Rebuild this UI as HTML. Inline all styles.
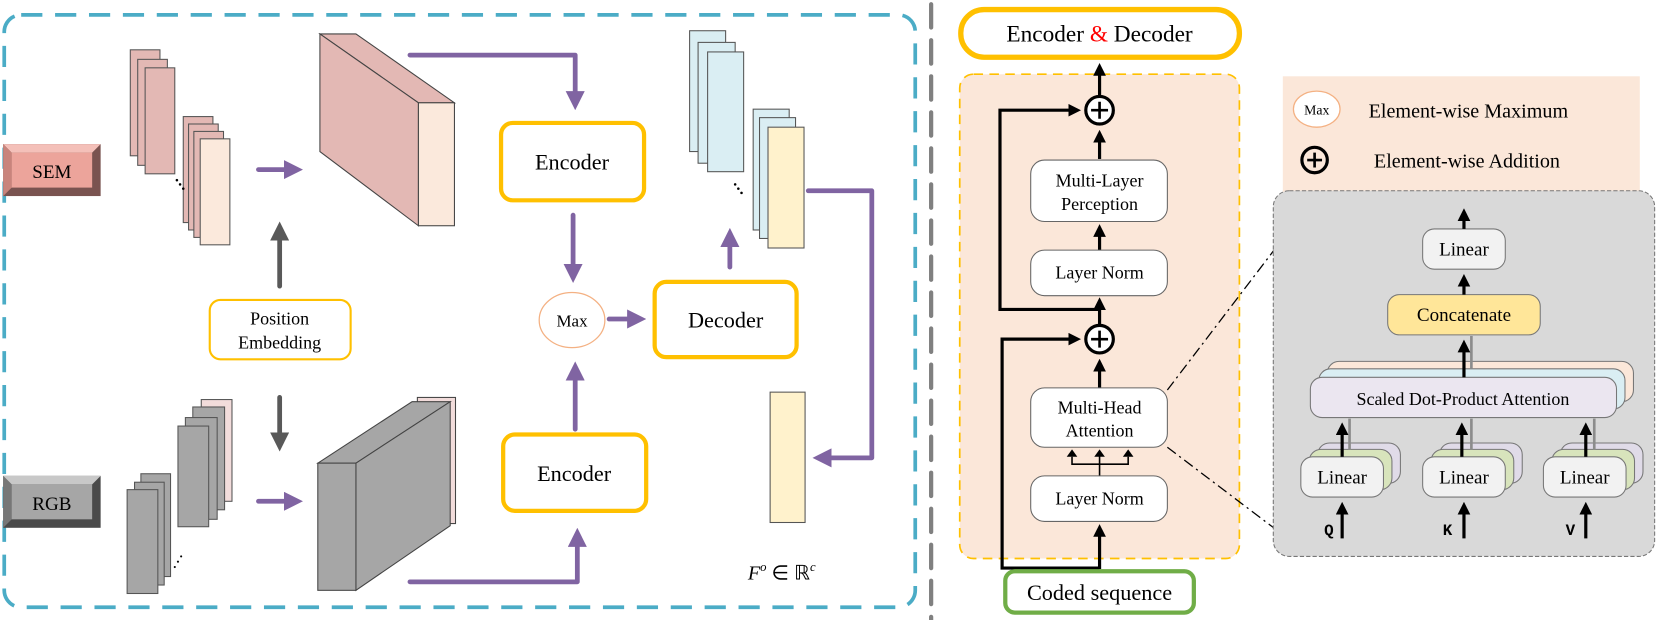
<!DOCTYPE html>
<html><head><meta charset="utf-8">
<style>
html,body{margin:0;padding:0;background:#fff;}
svg{display:block;font-family:"Liberation Serif",serif;}
svg text{font-family:"Liberation Serif",serif;}
svg text.mono{font-family:"Liberation Mono",monospace;font-weight:bold;}
</style></head>
<body>
<svg width="1661" height="620" viewBox="0 0 1568 585" preserveAspectRatio="none" xmlns="http://www.w3.org/2000/svg" font-family="Liberation Serif, serif">
<defs>
<marker id="ap" markerWidth="4" markerHeight="4" refX="2" refY="2" orient="auto" markerUnits="strokeWidth"><path d="M0,0 L4,2 L0,4 z" fill="#8064a2"/></marker>
<marker id="ag" markerWidth="4" markerHeight="4" refX="2" refY="2" orient="auto" markerUnits="strokeWidth"><path d="M0,0 L4,2 L0,4 z" fill="#595959"/></marker>
<marker id="ab" markerWidth="4" markerHeight="4" refX="2.5" refY="2" orient="auto" markerUnits="strokeWidth"><path d="M0,0 L4,2 L0,4 z" fill="#000"/></marker>
</defs>

<rect x="4" y="14" width="860" height="559" rx="16" fill="none" stroke="#4bacc6" stroke-width="3.5" stroke-dasharray="20 12"/>
<line x1="879" y1="4" x2="879" y2="585" stroke="#808080" stroke-width="4" stroke-dasharray="22 12" stroke-linecap="round"/>

<rect x="3" y="136" width="92" height="49" fill="#7a5350"/>
<polygon points="3,136 95,136 87,144 11,144" fill="#f4c0b9"/>
<polygon points="3,136 11,144 11,177 3,185" fill="#c9847c"/>
<rect x="11" y="144" width="76" height="33" fill="#eca49b"/>
<text x="49" y="168" font-size="18" text-anchor="middle">SEM</text>
<rect x="3" y="449" width="92" height="49" fill="#4a4a4a"/>
<polygon points="3,449 95,449 87,457 11,457" fill="#c8c8c8"/>
<polygon points="3,449 11,457 11,490 3,498" fill="#777"/>
<rect x="11" y="457" width="76" height="33" fill="#a6a6a6"/>
<text x="49" y="481" font-size="18" text-anchor="middle">RGB</text>

<g stroke="#555" stroke-width="1">
<rect x="123" y="47" width="28" height="100" fill="#e3b8b4"/>
<rect x="130" y="56" width="28" height="100" fill="#e3b8b4"/>
<rect x="137" y="64" width="28" height="100" fill="#e3b8b4"/>
<rect x="173" y="110" width="28" height="100" fill="#e3b8b4"/>
<rect x="178" y="117" width="28" height="100" fill="#e3b8b4"/>
<rect x="183" y="124" width="28" height="100" fill="#e3b8b4"/>
<rect x="189" y="131" width="28" height="100" fill="#fbe9dc"/>
</g>
<g fill="#000"><circle cx="167" cy="170" r="1.2"/><circle cx="170" cy="174" r="1.2"/><circle cx="173" cy="178" r="1.2"/></g>
<line x1="244" y1="160" x2="277" y2="160" stroke="#8064a2" stroke-width="4.5" stroke-linecap="round" marker-end="url(#ap)"/>

<polygon points="302,32 336,32 429,97 395,97" fill="#e3b8b4" stroke="#444" stroke-width="1"/>
<polygon points="302,32 395,97 395,213 302,143" fill="#e3b8b4" stroke="#444" stroke-width="1"/>
<rect x="395" y="97" width="34" height="116" fill="#fbe9dc" stroke="#444" stroke-width="1"/>

<rect x="198" y="283" width="133" height="56" rx="10" fill="#fff" stroke="#ffc000" stroke-width="2"/>
<text x="264" y="306" font-size="17" text-anchor="middle">Position</text>
<text x="264" y="329" font-size="17" text-anchor="middle">Embedding</text>
<line x1="264" y1="270" x2="264" y2="218" stroke="#595959" stroke-width="4.5" stroke-linecap="round" marker-end="url(#ag)"/>
<line x1="264" y1="375" x2="264" y2="417" stroke="#595959" stroke-width="4.5" stroke-linecap="round" marker-end="url(#ag)"/>

<g stroke="#555" stroke-width="1">
<rect x="133" y="447" width="28" height="97" fill="#a6a6a6"/>
<rect x="127" y="455" width="28" height="97" fill="#a6a6a6"/>
<rect x="120" y="462" width="29" height="98" fill="#a6a6a6"/>
<rect x="190" y="377" width="29" height="96" fill="#f2dcdb"/>
<rect x="182" y="384" width="30" height="97" fill="#a6a6a6"/>
<rect x="175" y="394" width="30" height="96" fill="#a6a6a6"/>
<rect x="168" y="402" width="29" height="95" fill="#a6a6a6"/>
</g>
<g fill="#000"><circle cx="171" cy="525" r="1"/><circle cx="168" cy="530" r="1"/><circle cx="165" cy="535" r="1"/></g>
<line x1="244" y1="473" x2="277" y2="473" stroke="#8064a2" stroke-width="4.5" stroke-linecap="round" marker-end="url(#ap)"/>

<rect x="394" y="375" width="36" height="119" fill="#f2dcdb" stroke="#444" stroke-width="1"/>
<polygon points="300,437 389,379 425,379 336,437" fill="#a6a6a6" stroke="#444" stroke-width="1"/>
<polygon points="336,437 425,379 425,496 336,557" fill="#a6a6a6" stroke="#444" stroke-width="1"/>
<rect x="300" y="437" width="36" height="120" fill="#a6a6a6" stroke="#444" stroke-width="1"/>

<g fill="none" stroke="#8064a2" stroke-width="4.5" stroke-linecap="round" stroke-linejoin="round">
<polyline points="387,52 543,52 543,95" marker-end="url(#ap)"/>
<line x1="541" y1="203" x2="541" y2="258" marker-end="url(#ap)"/>
<line x1="575" y1="301" x2="601" y2="301" marker-end="url(#ap)"/>
<line x1="543" y1="405" x2="543" y2="350" marker-end="url(#ap)"/>
<polyline points="387,549 545,549 545,507" marker-end="url(#ap)"/>
<line x1="689" y1="252" x2="689" y2="224" marker-end="url(#ap)"/>
<polyline points="763,180 823,180 823,432 776,432" marker-end="url(#ap)"/>
</g>

<rect x="473" y="116" width="135" height="73" rx="11" fill="#fff" stroke="#ffc000" stroke-width="4"/>
<text x="540" y="160" font-size="21" text-anchor="middle">Encoder</text>
<rect x="475" y="410" width="135" height="72" rx="11" fill="#fff" stroke="#ffc000" stroke-width="4"/>
<text x="542" y="454" font-size="21" text-anchor="middle">Encoder</text>
<rect x="618" y="266" width="134" height="71" rx="11" fill="#fff" stroke="#ffc000" stroke-width="4"/>
<text x="685" y="309" font-size="21" text-anchor="middle">Decoder</text>
<ellipse cx="540" cy="302" rx="31" ry="26" fill="#fff" stroke="#f4b183" stroke-width="1.2"/>
<text x="540" y="308" font-size="16" text-anchor="middle">Max</text>

<g stroke="#555" stroke-width="1">
<rect x="651" y="29" width="34" height="114" fill="#daeef3"/>
<rect x="659" y="40" width="35" height="114" fill="#daeef3"/>
<rect x="668" y="49" width="34" height="113" fill="#daeef3"/>
<rect x="711" y="103" width="34" height="114" fill="#daeef3"/>
<rect x="717" y="111" width="34" height="114" fill="#daeef3"/>
<rect x="725" y="120" width="34" height="114" fill="#fff2cc"/>
<rect x="727" y="370" width="33" height="123" fill="#fff2cc"/>
</g>
<g fill="#000"><circle cx="694" cy="174" r="1.2"/><circle cx="697" cy="178" r="1.2"/><circle cx="700" cy="182" r="1.2"/></g>
<text x="706" y="547" font-size="19" font-style="italic">F<tspan font-size="12" dy="-8">o</tspan><tspan dy="8" font-style="normal"> ∈ ℝ</tspan><tspan font-size="12" dy="-8">c</tspan></text>

<rect x="907" y="9" width="263" height="45" rx="22" fill="#fff" stroke="#ffc000" stroke-width="5"/>
<text x="1038" y="39" font-size="22" text-anchor="middle">Encoder <tspan fill="#ff0000">&amp;</tspan> Decoder</text>
<rect x="906" y="70" width="264" height="457" rx="13" fill="#fbe7d9" stroke="#ffc000" stroke-width="1.6" stroke-dasharray="9 6"/>

<g fill="none" stroke="#000" stroke-width="3">
<line x1="1038" y1="95" x2="1038" y2="64" marker-end="url(#ab)"/>
<polyline points="1038,292 944,292 944,104 1016,104" marker-end="url(#ab)"/>
<polyline points="1038,536 946,536 946,320 1016,320" marker-end="url(#ab)"/>
<line x1="1038" y1="150" x2="1038" y2="127" marker-end="url(#ab)"/>
<line x1="1038" y1="236" x2="1038" y2="216" marker-end="url(#ab)"/>
<line x1="1038" y1="307" x2="1038" y2="285" marker-end="url(#ab)"/>
<line x1="1038" y1="366" x2="1038" y2="343" marker-end="url(#ab)"/>
<line x1="1038" y1="537" x2="1038" y2="499" marker-end="url(#ab)"/>
</g>
<g fill="none" stroke="#000" stroke-width="1.5">
<line x1="1038" y1="449" x2="1038" y2="427"/>
<polyline points="1012,431 1012,438 1065,438 1065,431"/>
</g>
<g fill="#000">
<path d="M1007,431 L1017,431 L1012,424 z"/><path d="M1033,431 L1043,431 L1038,424 z"/><path d="M1060,431 L1070,431 L1065,424 z"/>
</g>
<circle cx="1038" cy="104" r="13" fill="#fff" stroke="#000" stroke-width="3"/>
<path d="M1030,104 H1046 M1038,96 V112" stroke="#000" stroke-width="2.5"/>
<circle cx="1038" cy="320" r="13" fill="#fff" stroke="#000" stroke-width="3"/>
<path d="M1030,320 H1046 M1038,312 V328" stroke="#000" stroke-width="2.5"/>

<g fill="#fff" stroke="#666" stroke-width="1">
<rect x="973" y="151" width="129" height="58" rx="13"/>
<rect x="973" y="236" width="129" height="43" rx="13"/>
<rect x="973" y="366" width="129" height="56" rx="13"/>
<rect x="973" y="449" width="129" height="43" rx="13"/>
</g>
<g font-size="17" text-anchor="middle">
<text x="1038" y="176">Multi-Layer</text>
<text x="1038" y="198">Perception</text>
<text x="1038" y="263">Layer Norm</text>
<text x="1038" y="390">Multi-Head</text>
<text x="1038" y="412">Attention</text>
<text x="1038" y="476">Layer Norm</text>
</g>
<rect x="949" y="539" width="178" height="39" rx="9" fill="#fff" stroke="#70ad47" stroke-width="4"/>
<text x="1038" y="566" font-size="21" text-anchor="middle">Coded sequence</text>

<rect x="1211" y="72" width="337" height="110" fill="#fbe7d9"/>
<ellipse cx="1243" cy="103" rx="22" ry="17" fill="#fff" stroke="#f4b183" stroke-width="1.2"/>
<text x="1243" y="108" font-size="13" text-anchor="middle">Max</text>
<text x="1292" y="111" font-size="19">Element-wise Maximum</text>
<circle cx="1241" cy="151" r="12" fill="none" stroke="#000" stroke-width="3"/>
<path d="M1234,151 H1248 M1241,144 V158" stroke="#000" stroke-width="2.5"/>
<text x="1297" y="158" font-size="19">Element-wise Addition</text>

<line x1="1102" y1="368" x2="1205" y2="233" stroke="#000" stroke-width="1.2" stroke-dasharray="10 4 2 4"/>
<line x1="1102" y1="422" x2="1205" y2="500" stroke="#000" stroke-width="1.2" stroke-dasharray="10 4 2 4"/>

<rect x="1202" y="180" width="360" height="345" rx="15" fill="#d9d9d9" stroke="#777" stroke-width="1" stroke-dasharray="4 2"/>
<rect x="1253" y="341" width="289" height="38" rx="11" fill="#fbe7d9" stroke="#777" stroke-width="1"/>
<rect x="1245" y="348" width="289" height="38" rx="11" fill="#daeef3" stroke="#777" stroke-width="1"/>
<rect x="1237" y="356" width="289" height="38" rx="11" fill="#ebe6f0" stroke="#777" stroke-width="1"/>
<text x="1381" y="382" font-size="17" text-anchor="middle">Scaled Dot-Product Attention</text>
<g stroke="#777" stroke-width="1">
<rect x="1244" y="418" width="78" height="38" rx="11" fill="#e0dbe8"/>
<rect x="1236" y="424" width="78" height="38" rx="11" fill="#d8e4bc"/>
<rect x="1228" y="431" width="78" height="38" rx="11" fill="#f2f2f2"/>
<rect x="1359" y="418" width="78" height="38" rx="11" fill="#e0dbe8"/>
<rect x="1351" y="424" width="78" height="38" rx="11" fill="#d8e4bc"/>
<rect x="1343" y="431" width="78" height="38" rx="11" fill="#f2f2f2"/>
<rect x="1473" y="418" width="78" height="38" rx="11" fill="#e0dbe8"/>
<rect x="1465" y="424" width="78" height="38" rx="11" fill="#d8e4bc"/>
<rect x="1457" y="431" width="78" height="38" rx="11" fill="#f2f2f2"/>
</g>
<g font-size="18" text-anchor="middle">
<text x="1267" y="456">Linear</text>
<text x="1382" y="456">Linear</text>
<text x="1496" y="456">Linear</text>
</g>
<rect x="1310" y="278" width="144" height="38" rx="11" fill="#ffe699" stroke="#777" stroke-width="1"/>
<text x="1382" y="303" font-size="18" text-anchor="middle">Concatenate</text>
<rect x="1343" y="216" width="78" height="38" rx="11" fill="#f2f2f2" stroke="#777" stroke-width="1"/>
<text x="1382" y="241" font-size="18" text-anchor="middle">Linear</text>
<g stroke="#8c8c8c" stroke-width="2.5">
<line x1="1274" y1="395" x2="1274" y2="424"/>
<line x1="1389" y1="395" x2="1389" y2="424"/>
<line x1="1505" y1="395" x2="1505" y2="424"/>
<line x1="1389" y1="317" x2="1389" y2="348"/>
</g>
<g stroke="#000" stroke-width="3" fill="none">
<line x1="1267" y1="431" x2="1267" y2="403" marker-end="url(#ab)"/>
<line x1="1380" y1="431" x2="1380" y2="403" marker-end="url(#ab)"/>
<line x1="1497" y1="431" x2="1497" y2="403" marker-end="url(#ab)"/>
<line x1="1382" y1="356" x2="1382" y2="325" marker-end="url(#ab)"/>
<line x1="1382" y1="278" x2="1382" y2="263" marker-end="url(#ab)"/>
<line x1="1382" y1="216" x2="1382" y2="201" marker-end="url(#ab)"/>
<line x1="1267" y1="508" x2="1267" y2="478" marker-end="url(#ab)"/>
<line x1="1382" y1="508" x2="1382" y2="478" marker-end="url(#ab)"/>
<line x1="1497" y1="508" x2="1497" y2="478" marker-end="url(#ab)"/>
</g>
<text class="mono" x="1250" y="505" font-size="15" font-family="Liberation Mono, monospace" font-weight="bold">Q</text>
<text class="mono" x="1362" y="505" font-size="15" font-family="Liberation Mono, monospace" font-weight="bold">K</text>
<text class="mono" x="1478" y="505" font-size="15" font-family="Liberation Mono, monospace" font-weight="bold">V</text>
</svg>
</body></html>
